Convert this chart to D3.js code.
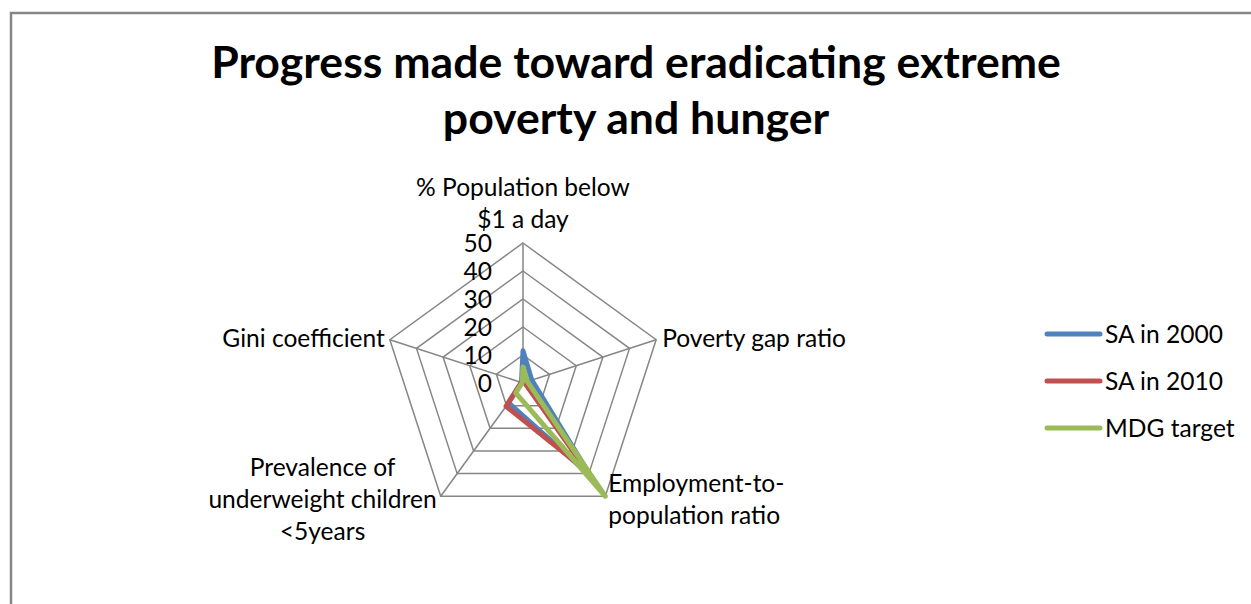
<!DOCTYPE html>
<html>
<head>
<meta charset="utf-8">
<script src="https://cdn.jsdelivr.net/npm/d3@7"></script>
<style>
  html, body { margin: 0; padding: 0; background: #fff; }
  svg { display: block; }
  text { font-family: Lato, "Open Sans", sans-serif; fill: #000; }
</style>
</head>
<body>
<svg id="chart" width="1251" height="604"></svg>
<script>
// Indicators around the radar, clockwise from the top
const indicators = [
  ["% Population below", "$1 a day"],
  ["Poverty gap ratio"],
  ["Employment-to-", "population ratio"],
  ["Prevalence of", "underweight children", "<5years"],
  ["Gini coefficient"]
];
const seriesNames = ["SA in 2000", "SA in 2010", "MDG target"];
const sa2000 = [11.5, 3.3, 41, 8.8, 0.57];
const sa2010 = [0.8, 0.6, 39, 10.3, 0.63];
const mdgTarget = [5.75, 1.65, 50, 4.4, 0.29];
const seriesColors = ["#4F81BD", "#C0504D", "#9BBB59"];
const radialTicks = [0, 10, 20, 30, 40, 50];
const titleLines = ["Progress made toward eradicating extreme", "poverty and hunger"];

const svg = d3.select("#chart");

// chart frame
svg.append("rect")
  .attr("x", 11).attr("y", 13)
  .attr("width", 1262).attr("height", 610)
  .attr("fill", "none").attr("stroke", "#868686").attr("stroke-width", 2.5);

// text sizing: font size at which a string spans a given width
function sizeFor(str, weight, targetWidth) {
  const t = svg.append("text").attr("font-size", 100).attr("font-weight", weight).text(str);
  const w = t.node().getComputedTextLength();
  t.remove();
  return 100 * targetWidth / w;
}
const bodySize = sizeFor("Poverty gap ratio", 400, 184);
const titleSize = sizeFor(titleLines[0], 700, 850);

// title
const title = svg.append("text")
  .attr("text-anchor", "middle")
  .attr("font-weight", 700)
  .attr("font-size", titleSize);
titleLines.forEach((line, i) => {
  title.append("tspan").attr("x", 636).attr("y", 78 + i * 56).text(line);
});

// radar geometry
const cx = 523, cy = 383, R = 140;
const r = d3.scaleLinear().domain([0, 50]).range([0, R]);
const angle = d3.scalePoint().domain(d3.range(indicators.length))
  .range([0, 2 * Math.PI * (indicators.length - 1) / indicators.length]);
const pt = (i, v) => [cx + r(v) * Math.sin(angle(i)), cy - r(v) * Math.cos(angle(i))];

const g = svg.append("g");

// rings
radialTicks.filter(d => d > 0).forEach(t => {
  g.append("path")
    .attr("d", d3.line()(indicators.map((_, i) => pt(i, t))) + "Z")
    .attr("fill", "none").attr("stroke", "#868686").attr("stroke-width", 1.5);
});
// spokes
indicators.forEach((_, i) => {
  const [x, y] = pt(i, 50);
  g.append("line").attr("x1", cx).attr("y1", cy).attr("x2", x).attr("y2", y)
    .attr("stroke", "#868686").attr("stroke-width", 1.5);
});

// series
const line = d3.line().curve(d3.curveLinearClosed);
[sa2000, sa2010, mdgTarget].forEach((vals, s) => {
  g.append("path")
    .attr("d", line(vals.map((v, i) => pt(i, v))))
    .attr("fill", "none")
    .attr("stroke", seriesColors[s])
    .attr("stroke-width", 5)
    .attr("stroke-linejoin", "round")
    .attr("stroke-linecap", "round");
});

// radial tick labels
radialTicks.forEach(t => {
  g.append("text")
    .attr("x", cx - 31).attr("y", cy - r(t))
    .attr("dy", "0.35em")
    .attr("text-anchor", "end")
    .attr("font-size", bodySize)
    .text(t);
});

// category labels
const lh = 32;
function multiline(x, y, lines, anchor) {
  const t = g.append("text").attr("font-size", bodySize).attr("text-anchor", anchor);
  lines.forEach((l, k) => t.append("tspan").attr("x", x).attr("y", y + k * lh).text(l));
  return t;
}
{
  const [x, y] = pt(0, 50);
  multiline(x, y - 47, indicators[0], "middle");
}
{
  const [x, y] = pt(1, 50);
  multiline(x + 6, y + 7, indicators[1], "start");
}
{
  const [x, y] = pt(2, 50);
  multiline(x + 3, y - 4, indicators[2], "start");
}
{
  const [x, y] = pt(3, 50);
  const tmp = g.append("text").attr("font-size", bodySize).text(indicators[3][1]);
  const maxW = tmp.node().getComputedTextLength();
  tmp.remove();
  multiline(x - 4 - maxW / 2, y - 20, indicators[3], "middle");
}
{
  const [x, y] = pt(4, 50);
  multiline(x - 5, y + 7, indicators[4], "end");
}

// legend
const legend = svg.append("g");
seriesNames.forEach((name, s) => {
  const y = 334 + s * 47;
  legend.append("line").attr("x1", 1047).attr("x2", 1100).attr("y1", y).attr("y2", y)
    .attr("stroke", seriesColors[s]).attr("stroke-width", 5).attr("stroke-linecap", "round");
  legend.append("text").attr("x", 1105).attr("y", y).attr("dy", "0.35em")
    .attr("font-size", bodySize).text(name);
});
</script>
</body>
</html>
